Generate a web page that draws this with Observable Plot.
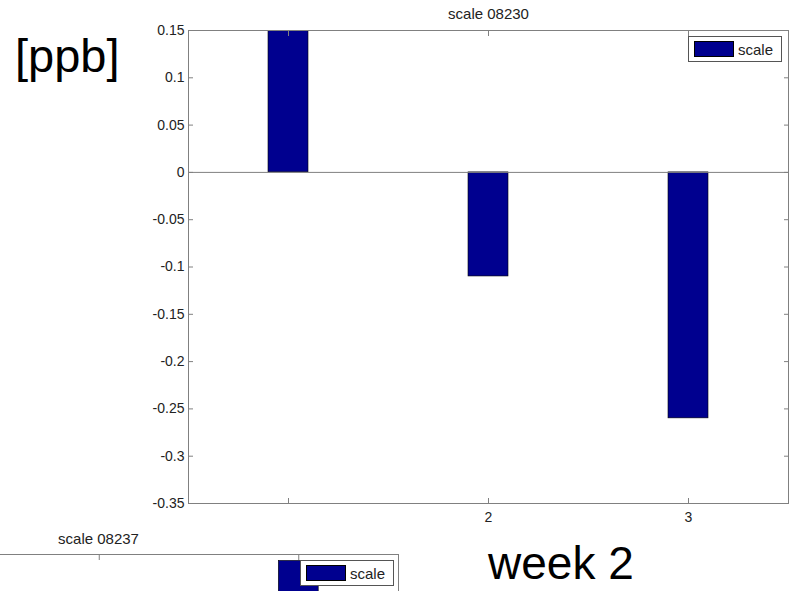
<!DOCTYPE html>
<html>
<head>
<meta charset="utf-8">
<script src="https://cdn.jsdelivr.net/npm/d3@7"></script>
<script src="https://cdn.jsdelivr.net/npm/@observablehq/plot@0.6"></script>
<style>
  html, body { margin: 0; padding: 0; background: #fff; overflow: hidden; }
  #wrap { position: relative; width: 792px; height: 591px; overflow: hidden; background: #fff;
          font-family: "Liberation Sans", Arial, sans-serif; color: #222; }
  .abs { position: absolute; white-space: nowrap; }
  .big { font-size: 47px; line-height: 40px; color: #000; }
  .legend { position: absolute; background: #fff; border: 1px solid #555; box-sizing: border-box; }
  .swatch { position: absolute; background: #00008f; border: 1px solid #000; box-sizing: border-box; }
  .ltext { position: absolute; font-size: 15px; line-height: 15px; color: #222; }
</style>
</head>
<body>
<div id="wrap"></div>
<script>
// ---- data ----
const categories = [1, 2, 3];
const values = [0.15, -0.11, -0.26];
const xTickLabels = ["", "2", "3"];
const yTicks = [0.15, 0.1, 0.05, 0, -0.05, -0.1, -0.15, -0.2, -0.25, -0.3, -0.35];
const yTickLabels = ["0.15", "0.1", "0.05", "0", "-0.05", "-0.1", "-0.15", "-0.2", "-0.25", "-0.3", "-0.35"];
const title = "scale 08230";
const seriesName = "scale";
const unitLabel = "[ppb]";
const weekLabel = "week 2";

const bottomTitle = "scale 08237";
const bottomCategories = [2];
const bottomValues = [0.143];
const bottomTickPositions = [1, 2];

const barColor = "#00008f";
const axisGray = "#808080";

const wrap = document.getElementById("wrap");
const font = '"Liberation Sans", Arial, sans-serif';

const bars = categories.map((c, i) => ({cat: c, value: values[i]}));

const main = Plot.plot({
  width: 792,
  height: 591,
  marginLeft: 188,
  marginRight: 4,
  marginTop: 30,
  marginBottom: 88,
  style: {fontFamily: font, fontSize: "14px", color: "#222", background: "transparent", overflow: "visible"},
  x: {type: "linear", domain: [0.5, 3.5], axis: null},
  y: {domain: [-0.35, 0.15], axis: null},
  marks: [
    Plot.rect(bars, {x1: d => d.cat - 0.1, x2: d => d.cat + 0.1, y1: 0, y2: d => d.value,
      fill: barColor, stroke: "#000", strokeWidth: 0.6, clip: true}),
    Plot.ruleY([0], {stroke: axisGray, strokeWidth: 1}),
    Plot.frame({stroke: axisGray, strokeWidth: 1}),
    Plot.axisY(yTicks, {anchor: "left", tickSize: -5, tickPadding: 9, label: null,
      stroke: axisGray, fill: "#222", tickFormat: d => yTickLabels[yTicks.indexOf(d)]}),
    Plot.axisY(yTicks, {anchor: "right", tickSize: -5, label: null,
      stroke: axisGray, fill: "none", tickFormat: () => ""}),
    Plot.axisX(categories, {anchor: "bottom", tickSize: -5, label: null,
      stroke: axisGray, fill: "#222", tickFormat: d => xTickLabels[categories.indexOf(d)]}),
    Plot.axisX(categories, {anchor: "top", tickSize: -5, label: null,
      stroke: axisGray, fill: "none", tickFormat: () => ""}),
    Plot.text([title], {text: d => d, frameAnchor: "top", lineAnchor: "bottom", dy: -12,
      fontSize: 15, fill: "#222"})
  ]
});
main.style.position = "absolute";
main.style.left = "0px";
main.style.top = "0px";
wrap.appendChild(main);

// bottom partial chart (cropped second figure)
const bottomBars = bottomCategories.map((c, i) => ({cat: c, value: bottomValues[i]}));
const bottom = Plot.plot({
  width: 401,
  height: 300,
  marginLeft: 0,
  marginRight: 2,
  marginTop: 24,
  marginBottom: 0,
  style: {fontFamily: font, fontSize: "14px", color: "#222", background: "transparent", overflow: "visible"},
  x: {type: "linear", domain: [0.5, 2.5], axis: null},
  y: {domain: [-0.15, 0.15], axis: null},
  marks: [
    Plot.rect(bottomBars, {x1: d => d.cat - 0.1, x2: d => d.cat + 0.1, y1: 0, y2: d => d.value,
      fill: barColor, stroke: "#000", strokeWidth: 0.6, clip: true}),
    Plot.frame({stroke: axisGray, strokeWidth: 1}),
    Plot.axisX(bottomTickPositions, {anchor: "top", tickSize: -5, label: null,
      stroke: axisGray, fill: "none", tickFormat: () => ""}),
    Plot.text([bottomTitle], {text: d => d, frameAnchor: "top-left", textAnchor: "middle",
      lineAnchor: "bottom", dx: 99, dy: -11, fontSize: 15, fill: "#222"})
  ]
});
bottom.style.position = "absolute";
bottom.style.left = "-1px";
bottom.style.top = "530px";
wrap.appendChild(bottom);

// legends
function legend(left, top) {
  const box = document.createElement("div");
  box.className = "legend";
  box.style.left = left + "px";
  box.style.top = top + "px";
  box.style.width = "94px";
  box.style.height = "26px";
  wrap.appendChild(box);
  const sw = document.createElement("div");
  sw.className = "swatch";
  sw.style.left = (left + 6) + "px";
  sw.style.top = (top + 5) + "px";
  sw.style.width = "40px";
  sw.style.height = "16px";
  wrap.appendChild(sw);
  const t = document.createElement("div");
  t.className = "ltext";
  t.style.left = (left + 50) + "px";
  t.style.top = (top + 6) + "px";
  t.textContent = seriesName;
  wrap.appendChild(t);
}
legend(688, 36);
legend(300, 560);

// big annotation labels
function bigText(txt, left, top, size) {
  const d = document.createElement("div");
  d.className = "abs big";
  d.style.left = left + "px";
  d.style.top = top + "px";
  d.style.fontSize = size + "px";
  d.textContent = txt;
  wrap.appendChild(d);
}
bigText(unitLabel, 15, 36, 47);
bigText(weekLabel, 488, 543, 46);
</script>
</body>
</html>
